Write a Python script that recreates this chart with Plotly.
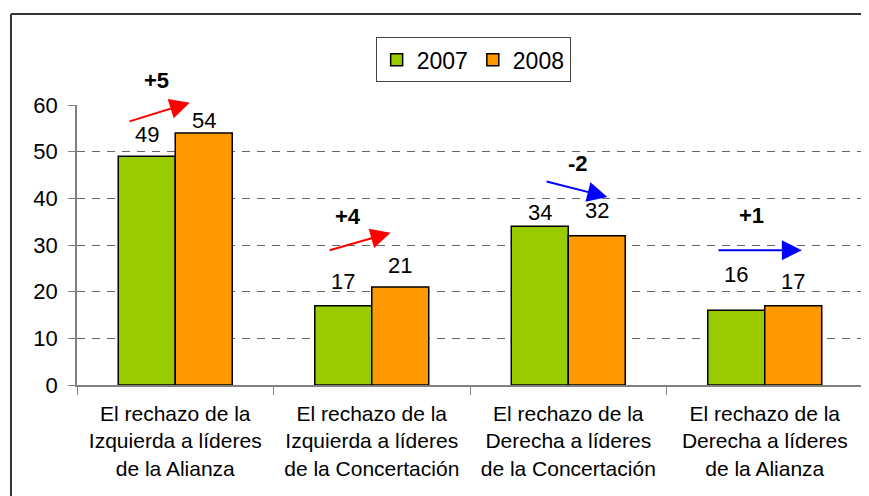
import plotly.graph_objects as go

categories = [
    "El rechazo de la<br>Izquierda a líderes<br>de la Alianza",
    "El rechazo de la<br>Izquierda a líderes<br>de la Concertación",
    "El rechazo de la<br>Derecha a líderes<br>de la Concertación",
    "El rechazo de la<br>Derecha a líderes<br>de la Alianza",
]
values_2007 = [49, 17, 34, 16]
values_2008 = [54, 21, 32, 17]
change_labels = ["+5", "+4", "-2", "+1"]
y_ticks = [0, 10, 20, 30, 40, 50, 60]

# label placement (pixel shift above bar top) and annotation geometry
label_shift_2007 = [22, 24, 14, 36]
label_shift_2008 = [13, 22, 25, 24]
arrow_colors = ["#FF0000", "#FF0000", "#0000FF", "#0000FF"]
arrow_tail = [(-0.240, 56.4), (-0.222, 28.8), (-0.118, 43.7), (-0.243, 28.9)]
arrow_tip = [(0.074, 60.5), (0.096, 32.6), (0.199, 40.3), (0.189, 28.9)]
change_pos = [(-0.093, 65.2), (-0.119, 36.2), (0.051, 47.5), (-0.065, 36.4)]

FONT = "Liberation Sans, Arial, sans-serif"
GREEN = "#99CC00"
ORANGE = "#FF9900"
Y_MAX = 60
PX_PER_UNIT = 280 / 60

fig = go.Figure()
fig.add_trace(go.Bar(name="2007", x=categories, y=values_2007,
                     marker=dict(color=GREEN, line=dict(color="black", width=1.5))))
fig.add_trace(go.Bar(name="2008", x=categories, y=values_2008,
                     marker=dict(color=ORANGE, line=dict(color="black", width=1.5))))

ann = []
half = 0.145
for i in range(len(categories)):
    ann.append(dict(x=i - half, y=values_2007[i], xref="x", yref="y", text=str(values_2007[i]),
                    showarrow=False, yshift=label_shift_2007[i], yanchor="middle",
                    font=dict(family=FONT, size=22, color="black")))
    ann.append(dict(x=i + half, y=values_2008[i], xref="x", yref="y", text=str(values_2008[i]),
                    showarrow=False, yshift=label_shift_2008[i], yanchor="middle",
                    font=dict(family=FONT, size=22, color="black")))
    cy = change_pos[i][1]
    extra = max(0, cy - Y_MAX) * PX_PER_UNIT
    ann.append(dict(x=i + change_pos[i][0], y=min(cy, Y_MAX), yshift=extra, xref="x", yref="y",
                    text="<b>" + change_labels[i] + "</b>", showarrow=False, yanchor="middle",
                    font=dict(family=FONT, size=22, color="black")))
    ann.append(dict(x=i + arrow_tip[i][0], y=arrow_tip[i][1], xref="x", yref="y",
                    ax=i + arrow_tail[i][0], ay=arrow_tail[i][1], axref="x", ayref="y",
                    text="", showarrow=True, arrowhead=2, arrowsize=2, arrowwidth=2,
                    arrowcolor=arrow_colors[i], standoff=0))

fig.update_layout(
    width=869, height=496,
    paper_bgcolor="white", plot_bgcolor="white",
    margin=dict(l=69, r=14, t=97, b=119),
    barmode="group", bargap=0.42, bargroupgap=0,
    font=dict(family=FONT, size=21, color="black"),
    legend=dict(orientation="h", x=0.504, y=1.242, xanchor="center", yanchor="top",
                bordercolor="#444444", borderwidth=1, bgcolor="white",
                font=dict(family=FONT, size=23, color="black"),
                itemwidth=30, tracegroupgap=0),
    annotations=ann,
    shapes=[
        dict(type="line", xref="paper", yref="paper", x0=-0.084, x1=1.2, y0=1.325, y1=1.325,
             line=dict(color="#333333", width=2)),
        dict(type="line", xref="paper", yref="paper", x0=-0.084, x1=-0.084, y0=-1, y1=1.325,
             line=dict(color="#333333", width=2)),
    ],
    showlegend=True,
)
fig.update_xaxes(showline=True, linecolor="#808080", linewidth=1.5,
                 ticks="outside", tickson="boundaries", ticklen=8, tickcolor="#808080",
                 ticklabelstandoff=9,
                 showgrid=False, tickfont=dict(family=FONT, size=21, color="black"))
fig.update_yaxes(range=[0, 60], tickvals=y_ticks, showline=True, linecolor="#808080", linewidth=1.5,
                 ticks="outside", ticklen=7, tickcolor="#808080", ticklabelstandoff=6,
                 showgrid=True, gridcolor="#666666", gridwidth=1, griddash="8px,7px",
                 zeroline=False, tickfont=dict(family=FONT, size=22, color="black"))

fig.write_html("out.html")
